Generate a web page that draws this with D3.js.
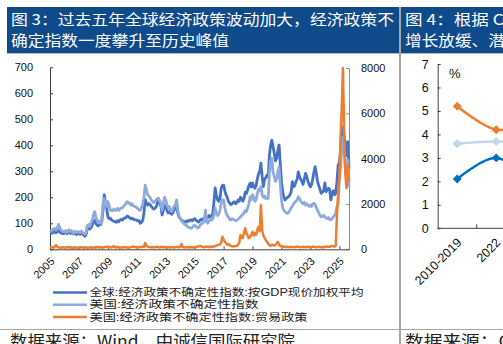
<!DOCTYPE html>
<html><head><meta charset="utf-8">
<script src="https://cdn.jsdelivr.net/npm/d3@7"></script>
<style>body{margin:0;background:#fff}svg{display:block}</style>
</head><body>
<svg id="c" width="503" height="344"></svg>
<script>
// ---------- Figure 3 data (monthly, Jan 2005 – Sep 2025) ----------
const startYear = 2005;
const globalEPU = [
 64,67,62,66,70,63,68,72,66,63,61,60,
 62,65,60,63,67,61,64,62,59,61,57,60,
 61,58,62,59,55,50,57,80,86,78,83,92,
 105,112,100,94,90,96,95,108,150,210,182,160,
 125,118,120,113,110,108,106,104,110,106,112,115,
 112,118,120,122,128,125,122,118,120,116,114,113,
 112,108,110,100,104,112,140,192,178,170,176,172,
 165,160,155,158,162,175,196,180,165,132,150,170,
 165,150,140,145,138,135,140,150,165,175,138,125,
 119,112,110,108,106,104,110,108,112,113,110,115,
 118,112,110,105,108,115,113,118,120,115,120,122,
 130,125,128,135,180,236,210,190,185,195,235,245,
 247,225,210,200,185,178,172,175,180,183,175,180,
 190,185,200,195,185,196,220,215,230,245,254,240,
 255,240,235,245,270,290,300,331,280,241,270,275,
 285,280,360,400,420,395,370,340,350,380,401,330,
 260,220,200,190,195,200,202,210,220,260,240,245,
 260,270,298,280,270,260,250,270,292,280,260,250,
 240,250,270,300,318,290,260,245,230,215,220,225,
 255,222,228,235,230,190,215,225,210,215,260,324,
 332,380,430,470,440,400,360,414,310
];
const usEPU = [
 72,70,75,78,80,74,82,96,85,76,70,68,
 68,72,65,70,75,68,72,66,62,70,65,68,
 66,64,70,65,62,58,66,90,95,88,100,110,
 130,145,125,112,102,108,100,118,175,195,170,165,
 183,170,151,150,148,155,150,151,158,150,155,158,
 160,165,170,175,183,180,177,170,175,168,165,164,
 160,155,151,150,160,175,200,247,230,210,205,200,
 190,185,180,183,190,195,196,185,175,151,180,200,
 190,170,160,165,150,145,155,165,170,190,150,130,
 119,110,105,100,95,92,88,85,82,81,84,90,
 92,88,85,82,88,95,100,101,110,151,105,100,
 110,115,112,118,130,159,140,130,135,150,178,190,
 190,160,140,130,125,115,113,118,115,113,110,112,
 115,120,125,130,135,140,150,145,160,175,202,190,
 210,200,185,190,215,230,225,241,210,200,205,195,
 200,195,290,340,350,300,280,260,270,300,316,250,
 190,160,150,145,140,138,142,150,160,165,175,180,
 185,190,202,195,185,180,175,180,170,175,170,165,
 170,165,175,177,172,160,150,140,130,125,128,130,
 125,120,118,122,115,113,118,125,130,140,164,175,
 270,320,380,430,380,310,290,343,240
];
const usTradeEPU = [
 90,80,100,70,110,190,120,90,80,70,80,90,
 80,70,90,80,100,90,70,80,60,90,80,70,
 70,80,100,80,70,90,80,70,60,80,90,70,
 80,90,70,110,90,80,100,70,80,90,110,100,
 120,100,90,80,110,140,90,80,100,90,70,80,
 80,90,100,90,80,70,80,90,100,120,110,90,
 90,80,100,110,90,120,100,280,150,120,100,90,
 90,100,80,90,110,100,90,80,100,110,90,100,
 90,80,100,90,80,90,100,80,90,100,110,90,
 100,235,110,90,80,90,100,80,90,100,90,80,
 90,100,110,120,140,150,110,100,90,110,120,100,
 110,100,120,110,120,150,160,190,200,220,300,556,
 420,335,280,200,230,190,150,130,120,140,130,150,
 200,300,631,520,500,750,927,700,600,485,550,650,
 777,600,706,650,850,997,800,1955,850,600,500,400,
 335,250,190,150,200,190,160,200,250,335,200,150,
 130,120,110,100,110,100,90,100,110,100,90,100,
 100,110,120,100,90,100,110,100,90,100,110,100,
 90,100,110,120,100,90,100,110,100,90,80,100,
 100,110,120,100,110,130,150,140,120,150,1500,2500,
 3200,5000,6200,8000,5200,3300,2700,3700,3000
];
const leftTicks = [0,100,200,300,400,500,600,700];
const rightTicks = [0,2000,4000,6000,8000];
const yearTicks = [2005,2007,2009,2011,2013,2015,2017,2019,2021,2023,2025];
const seriesNames = [
 "全球:经济政策不确定性指数:按GDP现价加权平均",
 "美国:经济政策不确定性指数",
 "美国:经济政策不确定性指数:贸易政策"
];
const seriesColors = ["#4472C4","#8FAADC","#ED7D31"];

// ---------- Figure 4 (partially visible) data ----------
const fig4Cats = ["2010-2019","2022","2023"];
const fig4Orange = [5.2,4.2,4.5];
const fig4Light = [3.6,3.7,3.55];
const fig4Dark = [2.1,3.0,1.9];
const fig4Ticks = [0,1,2,3,4,5,6,7];

const titles3 = ["图 3：过去五年全球经济政策波动加大，经济政策不","确定指数一度攀升至历史峰值"];
const titles4 = ["图 4：根据 CBO 预测，美国经济","增长放缓、潜在增速下降"];
const sourceText = "数据来源：Wind，中诚信国际研究院";
const sourceText4 = "数据来源：CBO，中诚信国际研究院";

const svg = d3.select("#c");
const CJK = "'Noto Sans CJK SC','Noto Sans',sans-serif";
const LEG = "'Liberation Sans','Noto Sans CJK SC',sans-serif";
const NUM = "'Liberation Sans',Arial,sans-serif";

// ---------- frame ----------
svg.append("rect").attr("x",7).attr("y",7).attr("width",392).attr("height",46).attr("fill","#0f4a8a");
svg.append("rect").attr("x",401).attr("y",7).attr("width",110).attr("height",46).attr("fill","#0f4a8a");
svg.append("line").attr("x1",7).attr("x2",503).attr("y1",53.5).attr("y2",53.5).attr("stroke","#b8b8b8").attr("stroke-width",1);
svg.append("line").attr("x1",400).attr("x2",400).attr("y1",7).attr("y2",344).attr("stroke","#a6a6a6").attr("stroke-width",2);
svg.append("line").attr("x1",0).attr("x2",503).attr("y1",329.5).attr("y2",329.5).attr("stroke","#a6a6a6").attr("stroke-width",1);

function titleText(x,y,len,t){
  svg.append("text").attr("x",x).attr("y",y).attr("fill","#fff").attr("font-family",CJK).attr("font-size",15)
    .attr("textLength",len).attr("lengthAdjust","spacingAndGlyphs").text(t);
}
titleText(11,24.5,383,titles3[0]);
titleText(11,46,218,titles3[1]);
titleText(405,24.5,250,titles4[0]);
titleText(405,46,183,titles4[1]);

svg.append("text").attr("x",10).attr("y",347).attr("fill","#222").attr("font-family",CJK).attr("font-size",16)
  .attr("textLength",285).attr("lengthAdjust","spacingAndGlyphs").text(sourceText);
svg.append("text").attr("x",405).attr("y",347).attr("fill","#222").attr("font-family",CJK).attr("font-size",16)
  .attr("textLength",300).attr("lengthAdjust","spacingAndGlyphs").text(sourceText4);

// ---------- Figure 3 ----------
const months = globalEPU.map((_,i)=>new Date(startYear, i, 1));
const x = d3.scaleTime().domain([months[0], months[months.length-1]]).range([50,349]);
const yL = d3.scaleLinear().domain([0,700]).range([249.3,67.3]);
const yR = d3.scaleLinear().domain([0,8000]).range([249.3,68]);

function styleAxis(g, col){
  g.attr("font-family",NUM).attr("font-size",11);
  g.select(".domain").attr("stroke",col);
  g.selectAll(".tick line").attr("stroke",col);
  g.selectAll("text").attr("fill","#111");
}
const gl = svg.append("g").attr("transform","translate(50,0)")
  .call(d3.axisLeft(yL).tickValues(leftTicks).tickFormat(d3.format("d")).tickSizeInner(-3).tickSizeOuter(0).tickPadding(17));
styleAxis(gl,"#404040");
const gr = svg.append("g").attr("transform","translate(349,0)")
  .call(d3.axisRight(yR).tickValues(rightTicks).tickFormat(d3.format("d")).tickSizeInner(-3).tickSizeOuter(0).tickPadding(12));
styleAxis(gr,"#8c8c8c");
const gb = svg.append("g").attr("transform","translate(0,249.3)")
  .call(d3.axisBottom(x).tickValues(yearTicks.map(y=>new Date(y,0,1))).tickFormat(d3.timeFormat("%Y")).tickSizeInner(-3).tickSizeOuter(0));
styleAxis(gb,"#404040");
gb.selectAll("text").attr("x",0).attr("y",0).attr("dy","0.35em").attr("text-anchor","end")
  .attr("transform","translate(2,10) rotate(-45)");

const lineL = d3.line().x((d,i)=>x(months[i])).y(d=>yL(d));
const lineR = d3.line().x((d,i)=>x(months[i])).y(d=>yR(d));
svg.append("path").datum(globalEPU).attr("d",lineL).attr("fill","none").attr("stroke",seriesColors[0]).attr("stroke-width",2.8).attr("stroke-linejoin","round");
svg.append("path").datum(usEPU).attr("d",lineL).attr("fill","none").attr("stroke",seriesColors[1]).attr("stroke-width",2.8).attr("stroke-linejoin","round");
svg.append("path").datum(usTradeEPU).attr("d",lineR).attr("fill","none").attr("stroke",seriesColors[2]).attr("stroke-width",2.5).attr("stroke-linejoin","round");

// legend
const legLens = [274,169,218];
seriesNames.forEach((n,i)=>{
  const yy = 292.5 + i*12.2;
  svg.append("line").attr("x1",53).attr("x2",87).attr("y1",yy).attr("y2",yy).attr("stroke",seriesColors[i]).attr("stroke-width",2.5);
  svg.append("text").attr("x",89.5).attr("y",yy+3.6).attr("font-family",LEG).attr("font-size",10).attr("fill","#222")
    .attr("textLength",legLens[i]).attr("lengthAdjust","spacingAndGlyphs").text(n);
});

// ---------- Figure 4 (clipped by page edge) ----------
const xb = d3.scaleBand().domain(fig4Cats).range([437.7, 437.7+3*39]);
const yb = d3.scaleLinear().domain([0,7]).range([228.3,64]);
const g4 = svg.append("g").attr("transform","translate(437.7,0)")
  .call(d3.axisLeft(yb).tickValues(fig4Ticks).tickFormat(d3.format("d")).tickSizeInner(-3).tickSizeOuter(0).tickPadding(9));
styleAxis(g4,"#404040");
g4.attr("font-size",12.5);
svg.append("line").attr("x1",437.7).attr("x2",503).attr("y1",yb(0)).attr("y2",yb(0)).attr("stroke","#404040");
fig4Cats.forEach(c=>{
  const bx = xb(c)+xb.bandwidth();
  svg.append("line").attr("x1",bx).attr("x2",bx).attr("y1",yb(0)).attr("y2",yb(0)-4).attr("stroke","#404040");
  const cx = xb(c)+xb.bandwidth()/2;
  svg.append("text").attr("font-family",NUM).attr("font-size",12.5).attr("fill","#111").attr("text-anchor","end")
    .attr("dy","0.35em").attr("transform",`translate(${cx+2},${yb(0)+12}) rotate(-45)`).text(c);
});
svg.append("text").attr("x",449).attr("y",78).attr("font-family",NUM).attr("font-size",13).attr("fill","#111").text("%");

const cx4 = c=>xb(c)+xb.bandwidth()/2;
[[fig4Orange,"#ED7D31"],[fig4Light,"#BDD7EE"],[fig4Dark,"#0070C0"]].forEach(([arr,col])=>{
  const ln = d3.line().x((d,i)=>cx4(fig4Cats[i])).y(d=>yb(d)).curve(d3.curveCatmullRom);
  svg.append("path").datum(arr).attr("d",ln).attr("fill","none").attr("stroke",col).attr("stroke-width",2.5);
  svg.selectAll(null).data(arr).enter().append("path")
    .attr("d",d3.symbol(d3.symbolSquare,40))
    .attr("transform",(d,i)=>`translate(${cx4(fig4Cats[i])},${yb(d)}) rotate(45)`)
    .attr("fill",col);
});
</script>
</body></html>
